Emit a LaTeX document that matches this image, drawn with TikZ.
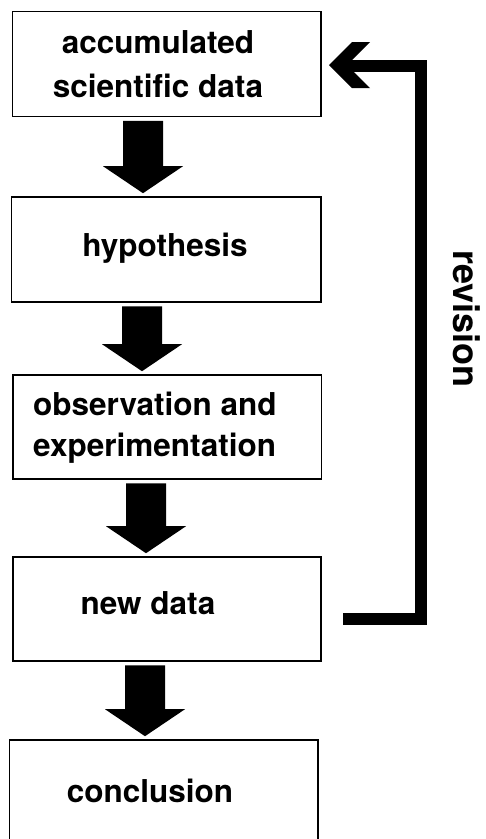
\documentclass[tikz,border=0pt]{standalone}
\usepackage{fontspec}
\setmainfont{TeX Gyre Heros}
\usetikzlibrary{calc}
\newcommand\blockarrow[3]{%
  \fill let \p1=(#1.south), \p2=(#2.north) in
    (#3pt-20pt,\y1-3.5pt) -- (#3pt+20pt,\y1-3.5pt) -- (#3pt+20pt,\y2+30pt)
    -- (#3pt+40pt,\y2+30pt) -- (#3pt,\y2+3pt) -- (#3pt-40pt,\y2+30pt)
    -- (#3pt-20pt,\y2+30pt) -- cycle;}
\begin{document}
\begin{tikzpicture}[x=1pt,y=-1pt,
  box/.style={draw=black, line width=1.6pt, rectangle, inner sep=0pt},
  lbl/.style={font=\fontsize{31.5}{42}\selectfont\bfseries, inner sep=0pt, anchor=base},
  revlbl/.style={font=\fontsize{36}{42}\selectfont\bfseries, inner sep=0pt, anchor=base west, rotate=-90},
  feedback/.style={line width=12pt, line join=miter}]
\useasboundingbox (0,0) rectangle (486,839);
\clip (0,0) rectangle (486,839);
\fill[white] (0,0) rectangle (486,839);

% boxes
\node[box, minimum width=308.5pt, minimum height=105pt] (b1) at (166.75,64) {};
\node[box, minimum width=309.5pt, minimum height=105pt] (b2) at (166.25,249.5) {};
\node[box, minimum width=308.5pt, minimum height=104pt] (b3) at (167.25,427) {};
\node[box, minimum width=308pt, minimum height=104pt] (b4) at (167,609) {};
\node[box, minimum width=308.5pt, minimum height=110pt] (b5) at (163.75,795) {};

% labels
\node[lbl] (t1a) at (158,53) {accumulated};
\node[lbl] (t1b) at (158,97) {scientific data};
\node[lbl] (t2) at (165,256) {hypothesis};
\node[lbl, anchor=base west] (t3a) at (33,415) {observation and};
\node[lbl, anchor=base west] (t3b) at (33,456) {experimentation};
\node[lbl] (t4) at (148,614) {new data};
\node[lbl] (t5) at (150,802) {conclusion};

% block arrows
\blockarrow{b1}{b2}{143}
\blockarrow{b2}{b3}{142}
\blockarrow{b3}{b4}{146}
\blockarrow{b4}{b5}{145}

% revision feedback
\coordinate (rs) at (343,619);
\coordinate (rc1) at (421,619);
\coordinate (rc2) at (421,66);
\coordinate (re) at (345,66);
\draw[feedback] (rs) -- (rc1) -- (rc2) -- (re);
\fill (329,65) -- (352,42) -- (370,42) -- (347,65) -- (370,88) -- (352,88) -- cycle;
\node[revlbl] (rev) at (453,250) {revision};
\end{tikzpicture}
\end{document}
